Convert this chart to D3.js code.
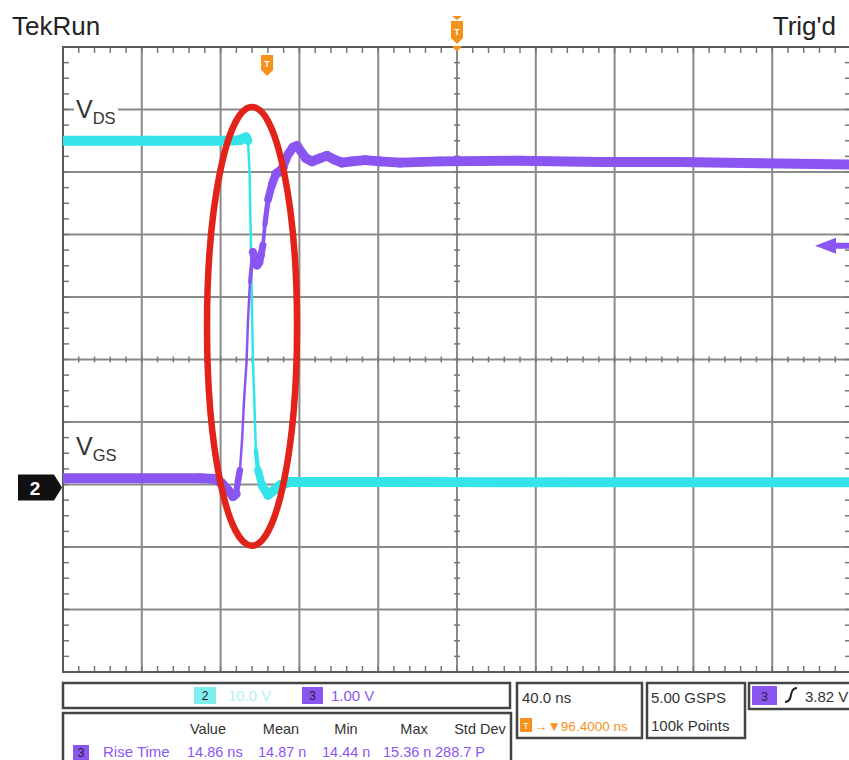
<!DOCTYPE html>
<html>
<head>
<meta charset="utf-8">
<script src="https://cdn.jsdelivr.net/npm/d3@7"></script>
<style>
	body { margin: 0; background: #fff; }
	svg { display: block; font-family: "Liberation Sans", Arial, sans-serif; }
</style>
</head>
<body>
<div id="scope"></div>
<script>
/*
Scope settings
*/
const timePerDiv = 40.0;      // ns/div
const horizDelay = 96.4;      // ns, trigger -> centre
const ch2VoltsPerDiv = 10.0;
const ch3VoltsPerDiv = 1.00;
const chOffsetDiv = -2;       // both grounds two divs below centre
const trigLevel = 3.82;       // V on ch3

/*
Waveform data (time in ns from trigger, volts)
*/
// ch2 - VDS
const ch2TimeNs = [-103.6, -60, -20, -13.8, -10.7, -9.7, -8.9, -8.3, -7.7, -7.2, -6.5, -5.7, -4.6, -2.6, 0.5, 3.5, 6.6, 11.6, 60, 150, 296.4];
const ch2Volts = [55.0, 55.0, 55.0, 55.1, 55.6, 55.0, 50.0, 40.1, 28.1, 20.0, 13.5, 5.5, 2.3, -0.1, -1.7, -0.9, -0.1, 0.4, 0.4, 0.35, 0.35];
// ch3 - VGS
const ch3TimeNs = [-103.6, -34.1, -26.4, -22.9, -19.8, -17.3, -15.8, -14.8, -13.8, -12.7, -11.7, -10.4, -9.7, -8.7, -7.7, -7.2, -6.1, -5.1, -4.1, -3.1, -2.1, -1.1, 0.5, 2.5, 4.5, 6.0, 8.1, 10.6, 13.1, 15.2, 17.2, 19.7, 22.8, 26.9, 30.4, 34.0, 38.0, 43.1, 49.7, 57.3, 67.5, 87.8, 128.4, 169.0, 209.6, 250.2, 296.4];
const ch3Volts = [0.10, 0.10, 0.09, 0.02, -0.09, -0.19, -0.15, 0.05, 0.23, 0.71, 1.35, 1.98, 2.63, 3.24, 3.56, 3.72, 3.62, 3.51, 3.56, 3.67, 3.83, 4.16, 4.56, 4.80, 4.97, 5.00, 5.07, 5.28, 5.39, 5.42, 5.33, 5.22, 5.17, 5.22, 5.26, 5.20, 5.15, 5.17, 5.19, 5.17, 5.15, 5.17, 5.18, 5.16, 5.16, 5.14, 5.12];

// highlighted switching region (ns, divs)
const highlightNs = [-30.5, 15.2];
const highlightDiv = [-2.98, 4.04];

/*
Readout texts
*/
const measHeader = ["Value", "Mean", "Min", "Max", "Std Dev"];
const measValues = ["14.86 ns", "14.87 n", "14.44 n", "15.36 n", "288.7 P"];
const measName = "Rise Time";
const sampleRate = "5.00 GSPS";
const recordLength = "100k Points";

const cyan = "#34e4e8";
const purple = "#8b55f2";
const orange = "#f5921e";
const textCol = "#333";

const width = 849, height = 760;
const plot = { left: 63, right: 851, top: 47, bottom: 672 };

const svg = d3.select("#scope")
	.append("svg")
	.attr("width", width)
	.attr("height", height);

const x = d3.scaleLinear()
	.domain([horizDelay - 5 * timePerDiv, horizDelay + 5 * timePerDiv])
	.range([plot.left, plot.right]);
const y = d3.scaleLinear()
	.domain([-5, 5])
	.range([plot.bottom, plot.top]);
const xDiv = d3.scaleLinear().domain([0, 10]).range([plot.left, plot.right]);

/*
Graticule
*/
const grid = svg.append("g");
grid.selectAll(".vgrid")
	.data(d3.range(1, 10))
	.enter().append("line")
	.attr("x1", (d) => xDiv(d)).attr("x2", (d) => xDiv(d))
	.attr("y1", plot.top).attr("y2", plot.bottom)
	.attr("stroke", "#8a8a8a").attr("stroke-width", 2);
grid.selectAll(".hgrid")
	.data(d3.range(-4, 5))
	.enter().append("line")
	.attr("x1", plot.left).attr("x2", plot.right)
	.attr("y1", (d) => y(d)).attr("y2", (d) => y(d))
	.attr("stroke", "#8a8a8a").attr("stroke-width", 2);

const hMinor = d3.range(0, 10.01, 0.2);
const vMinor = d3.range(-5, 5.01, 0.25);
function hTicks(y1, y2) {
	grid.append("g").selectAll("line")
		.data(hMinor).enter().append("line")
		.attr("x1", (d) => xDiv(d)).attr("x2", (d) => xDiv(d))
		.attr("y1", y1).attr("y2", y2)
		.attr("stroke", "#777").attr("stroke-width", 1.5);
}
function vTicks(x1, x2) {
	grid.append("g").selectAll("line")
		.data(vMinor).enter().append("line")
		.attr("y1", (d) => y(d)).attr("y2", (d) => y(d))
		.attr("x1", x1).attr("x2", x2)
		.attr("stroke", "#777").attr("stroke-width", 1.5);
}
hTicks(plot.top, plot.top + 6);
hTicks(plot.bottom, plot.bottom - 6);
hTicks(y(0) - 3, y(0) + 3);
vTicks(plot.left, plot.left + 6);
vTicks(plot.right, plot.right - 6);
vTicks(xDiv(5) - 3, xDiv(5) + 3);

grid.append("rect")
	.attr("x", plot.left).attr("y", plot.top)
	.attr("width", plot.right - plot.left).attr("height", plot.bottom - plot.top)
	.attr("fill", "none").attr("stroke", "#5a5a5a").attr("stroke-width", 2);

/*
Header text and channel labels
*/
svg.append("text").attr("x", 12).attr("y", 35)
	.attr("font-size", 26).attr("fill", "#222").text("TekRun");
svg.append("text").attr("x", 836).attr("y", 35).attr("text-anchor", "end")
	.attr("font-size", 26).attr("fill", "#222").text("Trig'd");

function chanLabel(sub, yPos, bg) {
	if (bg) {
		svg.append("rect").attr("x", 74).attr("y", yPos - 21)
			.attr("width", 44).attr("height", 30).attr("fill", "#fff");
	}
	const t = svg.append("text").attr("x", 76).attr("y", yPos)
		.attr("fill", textCol);
	t.append("tspan").attr("font-size", 25).text("V");
	t.append("tspan").attr("font-size", 16.5).attr("dy", 6).text(sub);
}
chanLabel("DS", 118, true);
chanLabel("GS", 455, false);

/*
Traces
*/
svg.append("clipPath").attr("id", "plot-clip")
	.append("rect")
	.attr("x", plot.left).attr("y", plot.top)
	.attr("width", plot.right - plot.left).attr("height", plot.bottom - plot.top);
const traces = svg.append("g").attr("clip-path", "url(#plot-clip)");

function drawTrace(times, volts, vPerDiv, color) {
	var pts = times.map((t, i) => [x(t), y(chOffsetDiv + volts[i] / vPerDiv)]);
	traces.append("g").selectAll("line")
		.data(d3.pairs(pts))
		.enter().append("line")
		.attr("x1", (d) => d[0][0]).attr("y1", (d) => d[0][1])
		.attr("x2", (d) => d[1][0]).attr("y2", (d) => d[1][1])
		.attr("stroke", color)
		.attr("stroke-linecap", "round")
		.attr("stroke-width", (d) => {
			// noise band shows on flat parts, fast edges are thin
			var slope = Math.abs(d[1][1] - d[0][1]) / Math.max(0.5, Math.abs(d[1][0] - d[0][0]));
			return Math.max(2.5, 10 - 0.6 * slope);
		});
}
drawTrace(ch2TimeNs, ch2Volts, ch2VoltsPerDiv, cyan);
drawTrace(ch3TimeNs, ch3Volts, ch3VoltsPerDiv, purple);

/*
Markers
*/
const tx = x(0), cx = x(horizDelay);
// trigger position
svg.append("path")
	.attr("d", `M${tx - 6},55 h12 v15 l-6,6 l-6,-6 z`)
	.attr("fill", orange);
svg.append("text").attr("x", tx).attr("y", 67).attr("text-anchor", "middle")
	.attr("font-size", 9).attr("font-weight", "bold").attr("fill", "#fff").text("T");
// expansion point
svg.append("path").attr("d", `M${cx - 5},16 h10 l-5,4 z`).attr("fill", orange);
svg.append("path")
	.attr("d", `M${cx - 6},21 h12 v17 l-6,6 l-6,-6 z`)
	.attr("fill", orange);
svg.append("path").attr("d", `M${cx - 5},46 h10 l-5,6 z`).attr("fill", orange);
svg.append("text").attr("x", cx).attr("y", 35).attr("text-anchor", "middle")
	.attr("font-size", 9).attr("font-weight", "bold").attr("fill", "#fff").text("T");

// ch2 ground marker
const gy = y(chOffsetDiv) + 3;
svg.append("path")
	.attr("d", `M18,${gy - 13} h36 l8,13 l-8,13 h-36 z`)
	.attr("fill", "#111");
svg.append("text").attr("x", 35).attr("y", gy + 7).attr("text-anchor", "middle")
	.attr("font-size", 19).attr("font-weight", "bold").attr("fill", "#fff").text("2");

// trigger level arrow
const ty = y(chOffsetDiv + trigLevel / ch3VoltsPerDiv);
svg.append("path")
	.attr("d", `M815,${ty} L836,${ty - 8} L836,${ty - 3} L849,${ty - 3} L849,${ty + 3} L836,${ty + 3} L836,${ty + 8} z`)
	.attr("fill", purple);

/*
Highlight ellipse
*/
svg.append("ellipse")
	.attr("cx", (x(highlightNs[0]) + x(highlightNs[1])) / 2)
	.attr("cy", (y(highlightDiv[0]) + y(highlightDiv[1])) / 2)
	.attr("rx", (x(highlightNs[1]) - x(highlightNs[0])) / 2)
	.attr("ry", (y(highlightDiv[0]) - y(highlightDiv[1])) / 2)
	.attr("fill", "none")
	.attr("stroke", "#e2231a")
	.attr("stroke-width", 6.5);

/*
Readout panel
*/
const panel = svg.append("g").attr("font-size", 15);
function box(x0, y0, w, h) {
	panel.append("rect").attr("x", x0).attr("y", y0).attr("width", w).attr("height", h)
		.attr("fill", "#fff").attr("stroke", "#444").attr("stroke-width", 2.5);
}
function badge(x0, y0, w, h, fill, label) {
	panel.append("rect").attr("x", x0).attr("y", y0).attr("width", w).attr("height", h).attr("fill", fill);
	panel.append("text").attr("x", x0 + w / 2).attr("y", y0 + h - 4).attr("text-anchor", "middle")
		.attr("font-size", 12).attr("fill", "#222").text(label);
}

box(63, 683, 447, 25);
badge(194, 687, 22, 17, "#7eeef0", "2");
panel.append("text").attr("x", 228).attr("y", 701).attr("fill", "#b2f1f2")
	.text(`${ch2VoltsPerDiv.toFixed(1)} V`);
badge(302, 687, 21, 17, purple, "3");
panel.append("text").attr("x", 331).attr("y", 701).attr("fill", purple)
	.text(`${ch3VoltsPerDiv.toFixed(2)} V`);

box(63, 713, 448, 60);
const colCentre = [208, 281, 346, 414, 480];
const colStart = [187, 258, 322, 383, 435];
panel.selectAll(".mh").data(measHeader).enter().append("text")
	.attr("x", (d, i) => colCentre[i]).attr("y", 734).attr("text-anchor", "middle")
	.attr("font-size", 14.5).attr("fill", textCol).text((d) => d);
badge(73, 745, 16, 16, purple, "3");
panel.append("text").attr("x", 103).attr("y", 757).attr("fill", purple).text(measName);
panel.selectAll(".mv").data(measValues).enter().append("text")
	.attr("x", (d, i) => colStart[i]).attr("y", 757)
	.attr("font-size", 14.5).attr("fill", purple).text((d) => d);

box(517, 683, 125, 55);
panel.append("text").attr("x", 522).attr("y", 703).attr("fill", textCol)
	.text(`${timePerDiv.toFixed(1)} ns`);
panel.append("rect").attr("x", 520).attr("y", 718).attr("width", 12).attr("height", 14).attr("fill", orange);
panel.append("text").attr("x", 526).attr("y", 729).attr("text-anchor", "middle")
	.attr("font-size", 9).attr("fill", "#fff").text("T");
panel.append("text").attr("x", 534).attr("y", 731).attr("font-size", 13.5).attr("fill", orange)
	.text(`→▼${horizDelay.toFixed(4)} ns`);

box(647, 683, 98, 55);
panel.append("text").attr("x", 651).attr("y", 703).attr("fill", textCol).text(sampleRate);
panel.append("text").attr("x", 651).attr("y", 731).attr("fill", textCol).text(recordLength);

box(749, 683, 110, 26);
badge(752, 686, 25, 19, purple, "3");
panel.append("path")
	.attr("d", "M785,702 q5,0 6,-7 q1,-7 6,-7")
	.attr("fill", "none").attr("stroke", "#222").attr("stroke-width", 2);
panel.append("text").attr("x", 805).attr("y", 702).attr("fill", textCol)
	.text(`${trigLevel.toFixed(2)} V`);
</script>
</body>
</html>
